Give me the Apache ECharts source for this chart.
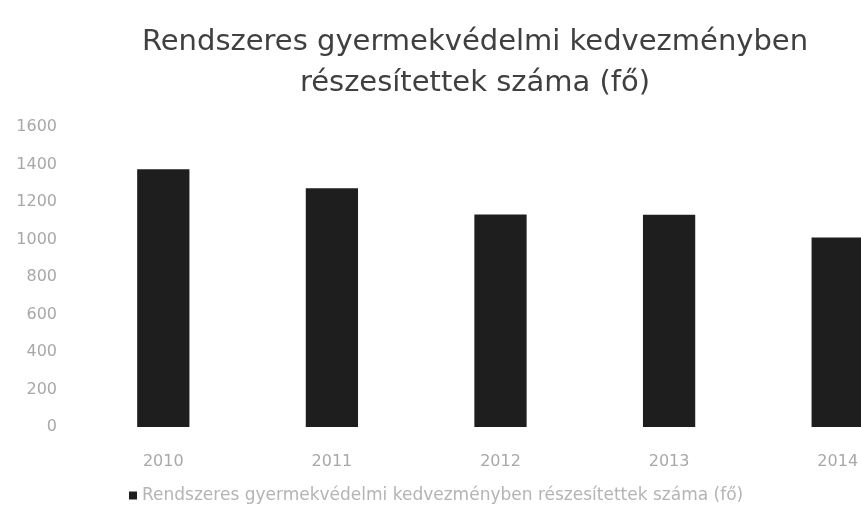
<!DOCTYPE html>
<html>
<head>
<meta charset="utf-8">
<script src="https://cdn.jsdelivr.net/npm/echarts@6/dist/echarts.min.js"></script>
<style>
  html, body { margin: 0; padding: 0; background: #fff; }
  #chart { width: 861px; height: 522px; }
</style>
</head>
<body>
<div id="chart"></div>
<script>
// chart data
var years = ['2010', '2011', '2012', '2013', '2014']
var counts = [1375, 1274, 1134, 1132, 1011]
var seriesName = 'Rendszeres gyermekvédelmi kedvezményben részesítettek száma (fő)'
var titleText = 'Rendszeres gyermekvédelmi kedvezményben\nrészesítettek száma (fő)'

var chart = echarts.init(document.getElementById('chart'))
chart.setOption({
  animation: false,
  title: {
    text: titleText,
    left: 470,
    textAlign: 'center',
    top: 17,
    textStyle: {
      fontFamily: 'DejaVu Sans',
      fontWeight: 'normal',
      fontSize: 29,
      lineHeight: 41,
      color: '#404040'
    }
  },
  legend: {
    data: [seriesName],
    top: 482,
    left: 124,
    itemWidth: 8,
    itemHeight: 8,
    icon: 'rect',
    itemGap: 7,
    textStyle: {
      fontFamily: 'DejaVu Sans',
      fontSize: 17,
      color: '#b4b4b4'
    }
  },
  grid: {
    left: 79,
    width: 843,
    top: 127,
    bottom: 95,
    outerBoundsMode: 'none'
  },
  xAxis: {
    type: 'category',
    data: years,
    axisLine: { show: false },
    axisTick: { show: false },
    axisLabel: {
      margin: 27,
      fontFamily: 'DejaVu Sans',
      fontSize: 16,
      color: '#a8a8a8'
    }
  },
  yAxis: {
    type: 'value',
    min: 0,
    max: 1600,
    interval: 200,
    splitLine: { show: false },
    axisLine: { show: false },
    axisTick: { show: false },
    axisLabel: {
      margin: 22,
      fontFamily: 'DejaVu Sans',
      fontSize: 16,
      color: '#a8a8a8',
      formatter: function (v) { return String(v) }
    }
  },
  series: [{
    name: seriesName,
    type: 'bar',
    barWidth: '31%',
    data: counts,
    itemStyle: { color: '#1e1e1e' }
  }]
})
</script>
</body>
</html>
